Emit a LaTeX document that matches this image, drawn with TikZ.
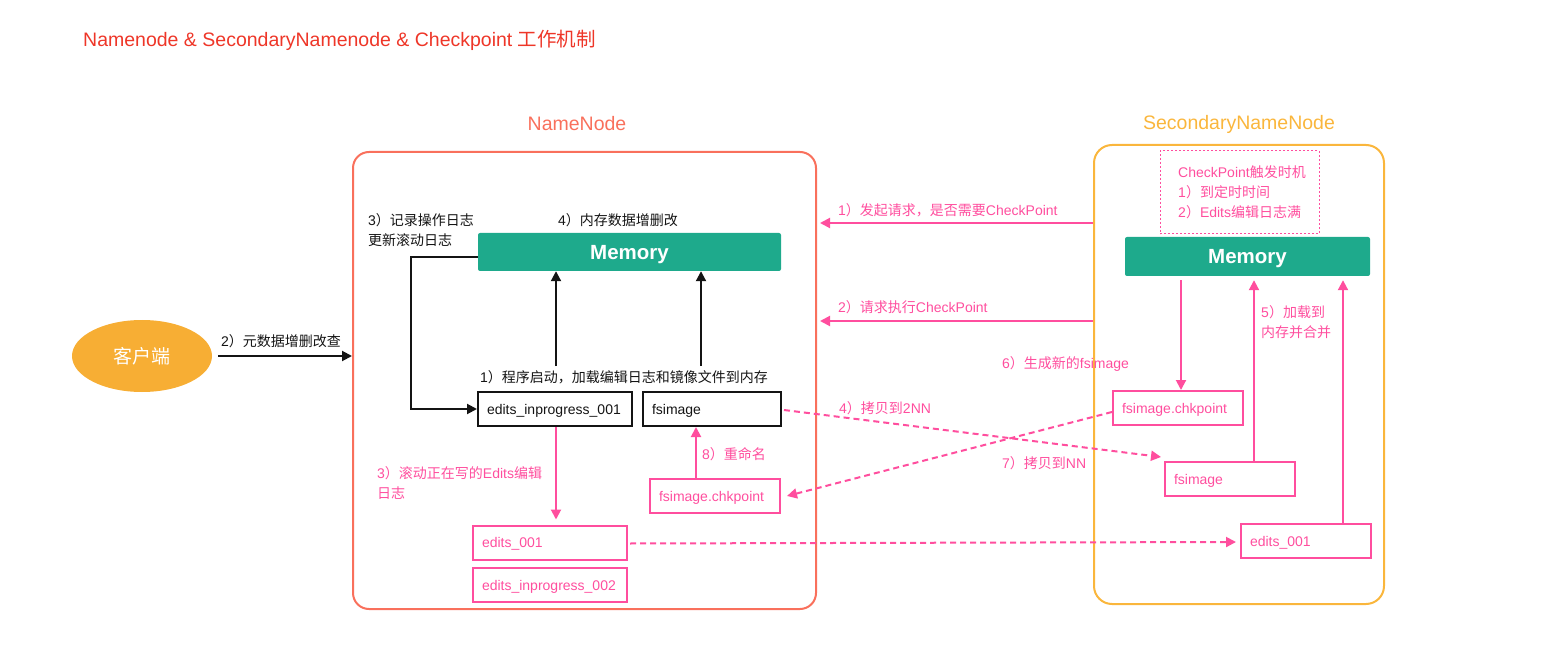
\documentclass[tikz,border=0pt]{standalone}
\usepackage{fontspec}
\setmainfont{Liberation Sans}
\newfontfamily\cjkfont{Noto Sans CJK SC}
\usetikzlibrary{arrows.meta,shapes.geometric,calc}
\XeTeXinterchartokenstate=1
\newXeTeXintercharclass\CJKclass
\newcount\cjkcnt
\cjkcnt="4E00
\loop
  \XeTeXcharclass\cjkcnt=\CJKclass
  \ifnum\cjkcnt<"9FFF \advance\cjkcnt by 1
\repeat
\XeTeXcharclass"FF08=\CJKclass
\XeTeXcharclass"FF09=\CJKclass
\XeTeXcharclass"FF0C=\CJKclass
\XeTeXcharclass"3001=\CJKclass
\XeTeXcharclass"3002=\CJKclass
\XeTeXinterchartoks 0 \CJKclass = {\cjkfont}
\XeTeXinterchartoks 4095 \CJKclass = {\cjkfont}
\XeTeXinterchartoks \CJKclass 0 = {\rmfamily}
\XeTeXinterchartoks 4095 0 = {\rmfamily}

\definecolor{titlered}{RGB}{238,54,40}
\definecolor{nnred}{RGB}{249,112,92}
\definecolor{snnorange}{RGB}{250,182,60}
\definecolor{clientor}{RGB}{247,174,52}
\definecolor{memgreen}{RGB}{30,170,140}
\definecolor{hp}{RGB}{255,78,158}
\definecolor{txt}{RGB}{20,20,20}

\newcommand\myBody{\fontsize{14}{20}\selectfont}
\newcommand\titleFont{\fontsize{19.5}{24}\selectfont}
\newcommand\headFont{\fontsize{19.5}{24}\selectfont}
\newcommand\memFont{\fontsize{20.5}{24}\selectfont\bfseries}
\newcommand\clientFont{\fontsize{19}{24}\selectfont}

\tikzset{
 blk/.style={draw=txt, line width=2pt, -{Triangle[length=10pt,width=10pt]}},
 pk/.style={draw=hp, line width=2pt, -{Triangle[length=10pt,width=10pt]}},
 pkd/.style={pk, dash pattern=on 6pt off 4pt},
 bbox/.style={draw=txt, line width=2pt, inner xsep=9pt, inner ysep=0pt, minimum height=34pt, text height=10pt, text depth=0pt, align=left, text=txt, font=\myBody},
 pbox/.style={bbox, draw=hp, text=hp},
 lbl/.style={anchor=west, inner sep=0pt, align=left, font=\myBody, text=txt},
 plbl/.style={lbl, text=hp},
 mem/.style={fill=memgreen, rounded corners=2pt, text=white, font=\memFont, inner sep=0pt, text height=15pt, text depth=0pt},
}

\begin{document}
\begin{tikzpicture}[x=1pt,y=-1pt]
\useasboundingbox (0,0) rectangle (1558,660);

\node[anchor=west, inner sep=0pt, text=titlered, font=\titleFont] (title) at (83,40) {Namenode \& SecondaryNamenode \& Checkpoint 工作机制};

% containers
\node[draw=nnred, line width=2pt, rounded corners=16pt, minimum width=463pt, minimum height=457pt, inner sep=0pt] (nnbox) at (584.5,380.5) {};
\node[text=nnred, font=\headFont, inner sep=0pt] (nnlabel) at (577,124) {NameNode};
\node[draw=snnorange, line width=2pt, rounded corners=18pt, minimum width=290pt, minimum height=459pt, inner sep=0pt] (snnbox) at (1239,374.5) {};
\node[text=snnorange, font=\headFont, inner sep=0pt] (snnlabel) at (1239,124) {SecondaryNameNode};

% client
\node[ellipse, fill=clientor, minimum width=140pt, minimum height=72pt, inner sep=0pt, text=white, font=\clientFont] (client) at (142,356) {客户端};
\draw[blk] ($(client.east)+(6,0)$) -- (client.east -| nnbox.west);
\node[lbl] (l2c) at (221,341) {2）元数据增删改查};

% NameNode interior
\node[lbl] (l3) at (368,230) {3）记录操作日志\\更新滚动日志};
\node[lbl] (l4) at (558,220) {4）内存数据增删改};
\node[mem, minimum width=303pt, minimum height=38pt] (nnmem) at (629.5,252) {Memory};
\node[bbox, text width=136pt] (eip) at (555,409) {edits\_inprogress\_001};
\node[bbox, text width=120pt] (fsi) at (712,409) {fsimage};
\node[lbl] (l1) at (480,377) {1）程序启动，加载编辑日志和镜像文件到内存};
\coordinate (bend) at (411,257);
\draw[blk] (nnmem.west |- bend) -- (bend) |- (eip.west);
\draw[blk] ($(eip.north)+(1,-25)$) -- ($(eip.north |- nnmem.south)+(1,0)$);
\draw[blk] ($(fsi.north)+(-11,-25)$) -- ($(fsi.north |- nnmem.south)+(-11,0)$);

\node[pbox, text width=136pt] (e001) at (550,542.5) {edits\_001};
\node[pbox, text width=136pt] (eip2) at (550,585) {edits\_inprogress\_002};
\draw[pk] ($(eip.south)+(1,0)$) -- ($(eip.south |- e001.north)+(1,-5)$);
\node[plbl] (l3b) at (377,483) {3）滚动正在写的Edits编辑\\日志};
\node[pbox, text width=112pt] (nnchk) at (715,496) {fsimage.chkpoint};
\draw[pk] ($(nnchk.north)+(-19,0)$) -- ($(nnchk.north |- fsi.south)+(-19,0)$);
\node[plbl] (l8) at (702,454) {8）重命名};

% SecondaryNameNode interior
\node[draw=hp, line width=1pt, dash pattern=on 2pt off 2pt, minimum width=159pt, minimum height=83pt, inner sep=0pt] (trig) at (1239.5,192.5) {};
\node[plbl] (trigtxt) at (1178,192) {CheckPoint触发时机\\1）到定时时间\\2）Edits编辑日志满};
\node[mem, minimum width=245pt, minimum height=39pt] (snnmem) at (1247.5,256.5) {Memory};
\node[pbox, text width=112pt] (snnchk) at (1178,408) {fsimage.chkpoint};
\node[pbox, text width=112pt] (snnfsi) at (1230,479) {fsimage};
\node[pbox, text width=112pt] (snne) at (1306,541) {edits\_001};
\draw[pk] ($(snnchk.north |- snnmem.south)+(3,4)$) -- ($(snnchk.north)+(3,0)$);
\draw[pk] ($(snnfsi.north)+(24,0)$) -- ($(snnfsi.north |- snnmem.south)+(24,4)$);
\draw[pk] ($(snne.north)+(37,0)$) -- ($(snne.north |- snnmem.south)+(37,4)$);
\node[plbl] (l5) at (1261,322) {5）加载到\\内存并合并};
\node[plbl] (l6) at (1002,364) {6）生成新的fsimage};

% cross connectors
\coordinate (r1) at (1000,223);
\coordinate (r2) at (1000,321);
\draw[pk, shorten >=3pt] (snnbox.west |- r1) -- (nnbox.east |- r1);
\node[plbl] (lr1) at (838,210) {1）发起请求，是否需要CheckPoint};
\draw[pk, shorten >=3pt] (snnbox.west |- r2) -- (nnbox.east |- r2);
\node[plbl] (lr2) at (838,307) {2）请求执行CheckPoint};
\draw[pkd] ($(fsi.east)+(2,1)$) -- ($(snnfsi.north west)+(-3,-4)$);
\node[plbl] (lr4) at (839,408) {4）拷贝到2NN};
\draw[pkd] ($(snnchk.west)+(0,4)$) -- ($(nnchk.east)+(6,0)$);
\node[plbl] (lr7) at (1002,463) {7）拷贝到NN};
\draw[pkd] ($(e001.east)+(2,1)$) -- ($(snne.west)+(-4,1)$);
\end{tikzpicture}
\end{document}
